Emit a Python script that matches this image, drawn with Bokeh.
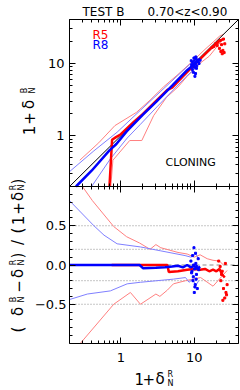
import numpy as np
from bokeh.plotting import figure
from bokeh.models import (Label, FixedTicker, LogAxis, LinearAxis, Range1d,
                          LinearScale, CustomJSTickFormatter)
from bokeh.embed import file_html
from bokeh.resources import INLINE

FONT = "DejaVu Sans"

# ---------------- data ----------------
axis_lim = [0.2, 40.0]
diag = [0.2, 40.0]
ratio_lim = [-1.0, 1.0]
log_major = [1, 10]
log_minor = [0.2, 0.3, 0.4, 0.5, 0.6, 0.7, 0.8, 0.9,
             2, 3, 4, 5, 6, 7, 8, 9, 20, 30, 40]
ratio_major = [-0.5, 0.0, 0.5]
ratio_minor = [-0.9, -0.8, -0.7, -0.6, -0.4, -0.3, -0.2, -0.1,
               0.1, 0.2, 0.3, 0.4, 0.6, 0.7, 0.8, 0.9]
ref_dotted = [-0.5, -0.2, 0.2, 0.5]
ref_zero = [0.0]

# top panel: medians and percentile envelopes
r5_top_x = [0.70, 0.76, 0.85, 1.0, 1.5, 2.0, 3.0, 4.3, 5.0, 7.0, 10.0, 14.0, 18.0, 22.0, 25.0]
r5_top_y = [0.20, 0.88, 0.95, 1.05, 1.55, 2.0, 3.0, 4.3, 4.6, 6.6, 9.5, 13.3, 17.0, 20.5, 21.5]
r8_top_x = [0.245, 0.40, 0.70, 0.87, 1.2, 2.0, 3.0, 5.0, 8.0, 10.0, 12.0]
r8_top_y = [0.20, 0.33, 0.63, 0.77, 1.15, 1.95, 2.9, 4.9, 8.0, 9.7, 11.5]
r5_hi_x = [0.276, 0.5, 0.83, 1.63, 2.5, 3.8, 6.0, 10.0, 14.0, 18.0, 22.0, 25.0]
r5_hi_y = [0.46, 0.80, 1.38, 2.1, 3.1, 4.7, 7.0, 11.2, 15.5, 19.5, 23.5, 25.0]
r5_lo_x = [0.73, 0.78, 1.32, 1.93, 2.8, 4.2, 6.0, 8.0, 12.0, 16.0, 20.0, 25.0]
r5_lo_y = [0.20, 0.46, 0.86, 0.86, 1.9, 3.4, 4.7, 6.6, 10.0, 12.5, 16.5, 22.0]
r8_hi_x = [0.2, 0.43, 0.89, 1.85, 3.5, 7.5, 11.0]
r8_hi_y = [0.32, 0.62, 1.12, 2.25, 4.1, 8.4, 12.0]
r8_lo_x = [0.40, 0.72, 1.22, 1.85, 3.1, 5.2, 7.6, 11.0]
r8_lo_y = [0.20, 0.48, 0.93, 1.44, 2.5, 4.3, 6.4, 9.0]

r8_pts_x = [9.2, 9.5, 9.8, 10.0, 10.3, 10.6, 11.0, 9.4, 9.7, 10.1, 10.4, 10.8, 11.3, 9.1, 9.9, 10.2, 10.7, 11.6, 12.0, 10.5]
r8_pts_y = [9.5, 10.2, 9.0, 10.8, 9.8, 11.5, 10.5, 8.2, 7.5, 8.8, 7.2, 9.2, 10.9, 10.8, 11.8, 6.6, 8.5, 9.9, 11.0, 12.2]
r5_pts_x = [17.5, 18.5, 19.5, 20.5, 21.0, 22.0, 22.5, 23.0, 23.5, 24.0, 24.5, 25.0, 25.5, 26.0]
r5_pts_y = [16.5, 17.0, 18.5, 17.5, 19.5, 16.0, 20.5, 14.5, 18.0, 13.5, 15.0, 21.5, 14.0, 18.5]

# bottom panel: fractional difference
r5_rat_x = [0.75, 4.3, 4.5, 6.0, 8.0, 10.0, 12.0, 14.0, 16.0, 18.0, 20.0, 22.0, 24.0, 26.0]
r5_rat_v = [0.0, 0.0, -0.09, -0.08, -0.06, -0.05, -0.06, -0.05, -0.08, -0.06, -0.08, -0.05, -0.12, -0.16]
r8_rat_x = [0.2, 1.8, 2.0, 3.0, 4.0, 5.0, 6.0, 7.0, 8.0, 9.0, 10.0, 11.0, 12.0]
r8_rat_v = [0.0, 0.0, -0.04, -0.035, -0.03, -0.02, -0.01, -0.03, 0.0, -0.03, -0.01, -0.05, -0.02]
r5_rat_hi_x = [0.30, 0.41, 0.80, 1.2, 1.8, 2.5, 3.0, 3.5, 6.0, 8.0, 10.0, 12.0, 15.0, 18.0, 22.0, 25.0]
r5_rat_hi_v = [1.0, 0.82, 0.49, 0.36, 0.28, 0.20, 0.26, 0.22, 0.16, 0.14, 0.10, 0.13, 0.08, 0.06, 0.05, 0.0]
r5_rat_lo_x = [0.28, 0.80, 1.35, 1.85, 3.0, 3.4, 4.3, 5.2, 7.6, 12.2, 18.0, 21.0, 28.0]
r5_rat_lo_v = [-1.0, -0.50, -0.35, -0.50, -0.37, -0.40, -0.32, -0.24, -0.20, -0.16, -0.27, -0.20, -0.07]
r8_rat_hi_x = [0.2, 0.43, 0.59, 0.89, 1.85, 3.5, 7.5, 9.0, 10.5, 11.5]
r8_rat_hi_v = [0.82, 0.50, 0.38, 0.27, 0.23, 0.18, 0.12, 0.10, 0.14, 0.08]
r8_rat_lo_x = [0.2, 0.35, 0.72, 1.22, 1.85, 3.1, 5.2, 7.6, 8.5, 9.5, 10.5, 11.5]
r8_rat_lo_v = [-0.44, -0.37, -0.33, -0.24, -0.22, -0.20, -0.18, -0.16, -0.22, -0.18, -0.26, -0.20]

r8_rpts_x = [9.0, 9.3, 9.5, 9.7, 9.9, 10.1, 10.3, 10.5, 10.7, 11.0, 11.3, 9.6, 10.0, 10.4, 10.8, 9.2, 10.6, 11.5, 9.8, 10.2]
r8_rpts_v = [0.05, -0.08, 0.12, -0.15, 0.22, -0.05, -0.25, 0.02, -0.12, -0.30, 0.08, -0.20, -0.35, 0.15, -0.02, -0.10, -0.18, -0.06, 0.0, -0.28]
r5_rpts_x = [21.5, 22.5, 23.0, 24.0, 25.0, 26.0, 27.0, 28.0, 24.5, 26.5, 27.5, 23.5]
r5_rpts_v = [0.05, -0.02, -0.20, -0.08, -0.30, -0.42, -0.35, -0.25, -0.45, 0.02, -0.38, -0.12]

RED, BLUE = "#ff0000", "#0000ff"
RED_L, BLUE_L = "#ff8080", "#8080ff"

# ---------------- geometry: one canvas, frame = whole page ----------------
PW, PH = 240, 390
FX0, FX1 = 69, 238          # panel left/right edges (px)
TY0, TY1 = 19, 186          # top panel top/bottom (px)
BY0, BY1 = 186, 343         # bottom panel top/bottom (px)
LG = np.log10(axis_lim[1] / axis_lim[0])


def x_at(X):
    return axis_lim[0] * 10 ** ((X - FX0) / (FX1 - FX0) * LG)


def ytop_at(Y):
    return axis_lim[0] * 10 ** ((TY1 - Y) / (TY1 - TY0) * LG)


def v_at(Y):
    return ratio_lim[0] + (BY1 - Y) / (BY1 - BY0) * (ratio_lim[1] - ratio_lim[0])


p = figure(width=PW, height=PH, x_axis_type="log", y_axis_type="log",
           x_range=Range1d(x_at(0), x_at(PW)), y_range=Range1d(ytop_at(PH), ytop_at(0)),
           x_axis_location=None, y_axis_location=None,
           output_backend="svg", toolbar_location=None, title=None,
           min_border=0)
p.extra_y_ranges = {"lin": Range1d(v_at(PH), v_at(0))}
p.extra_y_scales = {"lin": LinearScale()}
p.outline_line_color = None
p.grid.visible = False

BLANK = CustomJSTickFormatter(code="return ''")


def style_axis(ax, labels, standoff=4):
    ax.major_tick_in = 6
    ax.major_tick_out = 0
    ax.minor_tick_in = 3
    ax.minor_tick_out = 0
    ax.axis_line_color = "black"
    ax.major_tick_line_color = "black"
    ax.minor_tick_line_color = "black"
    ax.major_label_text_font = FONT
    ax.major_label_text_font_size = "13px"
    ax.major_label_text_color = "black"
    ax.major_label_standoff = standoff
    if not labels:
        ax.formatter = BLANK


lt = FixedTicker(ticks=log_major, minor_ticks=log_minor)
rt = FixedTicker(ticks=ratio_major, minor_ticks=ratio_minor)
log_lab = {1: "1", 10: "10"}

# top panel axes
ax = LogAxis(ticker=lt, fixed_location=axis_lim[0], bounds=tuple(axis_lim))
style_axis(ax, True, 5)
ax.major_label_overrides = log_lab
p.add_layout(ax, "left")
ax = LogAxis(ticker=lt, fixed_location=axis_lim[1], bounds=tuple(axis_lim))
style_axis(ax, False)
p.add_layout(ax, "right")
ax = LogAxis(ticker=lt, fixed_location=axis_lim[0], bounds=tuple(axis_lim))
style_axis(ax, False)
p.add_layout(ax, "below")
ax = LogAxis(ticker=lt, fixed_location=axis_lim[1], bounds=tuple(axis_lim))
style_axis(ax, False)
p.add_layout(ax, "above")

# bottom panel axes
ax = LinearAxis(ticker=rt, y_range_name="lin", fixed_location=axis_lim[0], bounds=tuple(ratio_lim))
style_axis(ax, True, 3)
ax.major_label_overrides = {-0.5: "−0.5", 0.0: "0.0", 0.5: "0.5"}
p.add_layout(ax, "left")
ax = LinearAxis(ticker=rt, y_range_name="lin", fixed_location=axis_lim[1], bounds=tuple(ratio_lim))
style_axis(ax, False)
p.add_layout(ax, "right")
ax = LogAxis(ticker=lt, y_range_name="lin", fixed_location=ratio_lim[0], bounds=tuple(axis_lim))
style_axis(ax, True, 9)
ax.major_label_overrides = log_lab
p.add_layout(ax, "below")
ax = LogAxis(ticker=lt, y_range_name="lin", fixed_location=ratio_lim[1], bounds=tuple(axis_lim))
style_axis(ax, False)
p.add_layout(ax, "above")

# ---- top panel marks ----
p.line(r5_hi_x, r5_hi_y, color=RED_L, line_width=1)
p.line(r5_lo_x, r5_lo_y, color=RED_L, line_width=1)
p.line(r8_hi_x, r8_hi_y, color=BLUE_L, line_width=1)
p.line(r8_lo_x, r8_lo_y, color=BLUE_L, line_width=1)
p.line(diag, diag, color="black", line_width=1)
p.line(r5_top_x, r5_top_y, color=RED, line_width=2.5)
p.scatter(r5_pts_x, r5_pts_y, marker="square", size=2, color=RED)
p.line(r8_top_x, r8_top_y, color=BLUE, line_width=2.5)
p.scatter(r8_pts_x, r8_pts_y, marker="square", size=2, color=BLUE)

# ---- bottom panel marks ----
p.multi_line([axis_lim] * len(ref_dotted), [[lv, lv] for lv in ref_dotted],
             y_range_name="lin", line_color="#8c8c8c", line_dash="1 2", line_width=1)
p.multi_line([axis_lim] * len(ref_zero), [[lv, lv] for lv in ref_zero],
             y_range_name="lin", line_color="#8c8c8c", line_dash="4 3", line_width=1)
p.line(r5_rat_hi_x, r5_rat_hi_v, y_range_name="lin", color=RED_L, line_width=1)
p.line(r5_rat_lo_x, r5_rat_lo_v, y_range_name="lin", color=RED_L, line_width=1)
p.line(r8_rat_hi_x, r8_rat_hi_v, y_range_name="lin", color=BLUE_L, line_width=1)
p.line(r8_rat_lo_x, r8_rat_lo_v, y_range_name="lin", color=BLUE_L, line_width=1)
p.line(r5_rat_x, r5_rat_v, y_range_name="lin", color=RED, line_width=2.5)
p.scatter(r5_rpts_x, r5_rpts_v, y_range_name="lin", marker="square", size=2, color=RED)
p.line(r8_rat_x, r8_rat_v, y_range_name="lin", color=BLUE, line_width=2.5)
p.scatter(r8_rpts_x, r8_rpts_v, y_range_name="lin", marker="square", size=2, color=BLUE)


# ---- texts (screen units: frame == page, y measured upward) ----
def t(X, Y, text, size, color="black", angle=0.0, align="left"):
    p.add_layout(Label(x=X, y=PH - Y, x_units="screen", y_units="screen",
                       text=text, text_font=FONT, text_font_size=f"{size}px",
                       text_color=color, angle=angle, text_align=align,
                       text_baseline="middle"))


ANG = np.pi / 2
t(82, 11, "TEST B", 12)
t(147, 11, "0.70<z<0.90", 12)
t(92, 34, "R5", 12, RED)
t(92, 44, "R8", 12, BLUE)
t(165, 162, "CLONING", 11)

# y label of top panel: 1+δ^B_N (rotated, reading upward)
for ch, Yc in (("1", 130), ("+", 118), ("δ", 104)):
    t(28, Yc, ch, 15, angle=ANG, align="center")
t(24, 90, "B", 8, angle=ANG, align="center")
t(32, 90, "N", 8, angle=ANG, align="center")

# y label of bottom panel: (δ^B_N−δ^R_N)/(1+δ^R_N)
lab_main = [("(", 329), ("δ", 311), ("−", 286), ("δ", 273), (")", 255),
            ("/", 242), ("(", 230), ("1", 220), ("+", 208), ("δ", 196), (")", 181)]
lab_scr = [("B", 299), ("R", 262), ("R", 187)]
for ch, Yc in lab_main:
    t(17, Yc, ch, 15, angle=ANG, align="center")
for ch, Yc in lab_scr:
    t(13, Yc, ch, 8, angle=ANG, align="center")
    t(21, Yc, "N", 8, angle=ANG, align="center")

# x label: 1+δ^R_N
for ch, Xl in (("1", 134), ("+", 142), ("δ", 155)):
    t(Xl, 378, ch, 15)
t(167, 374, "R", 8)
t(167, 383, "N", 8)

open("out.html", "w").write(file_html(p, INLINE))
